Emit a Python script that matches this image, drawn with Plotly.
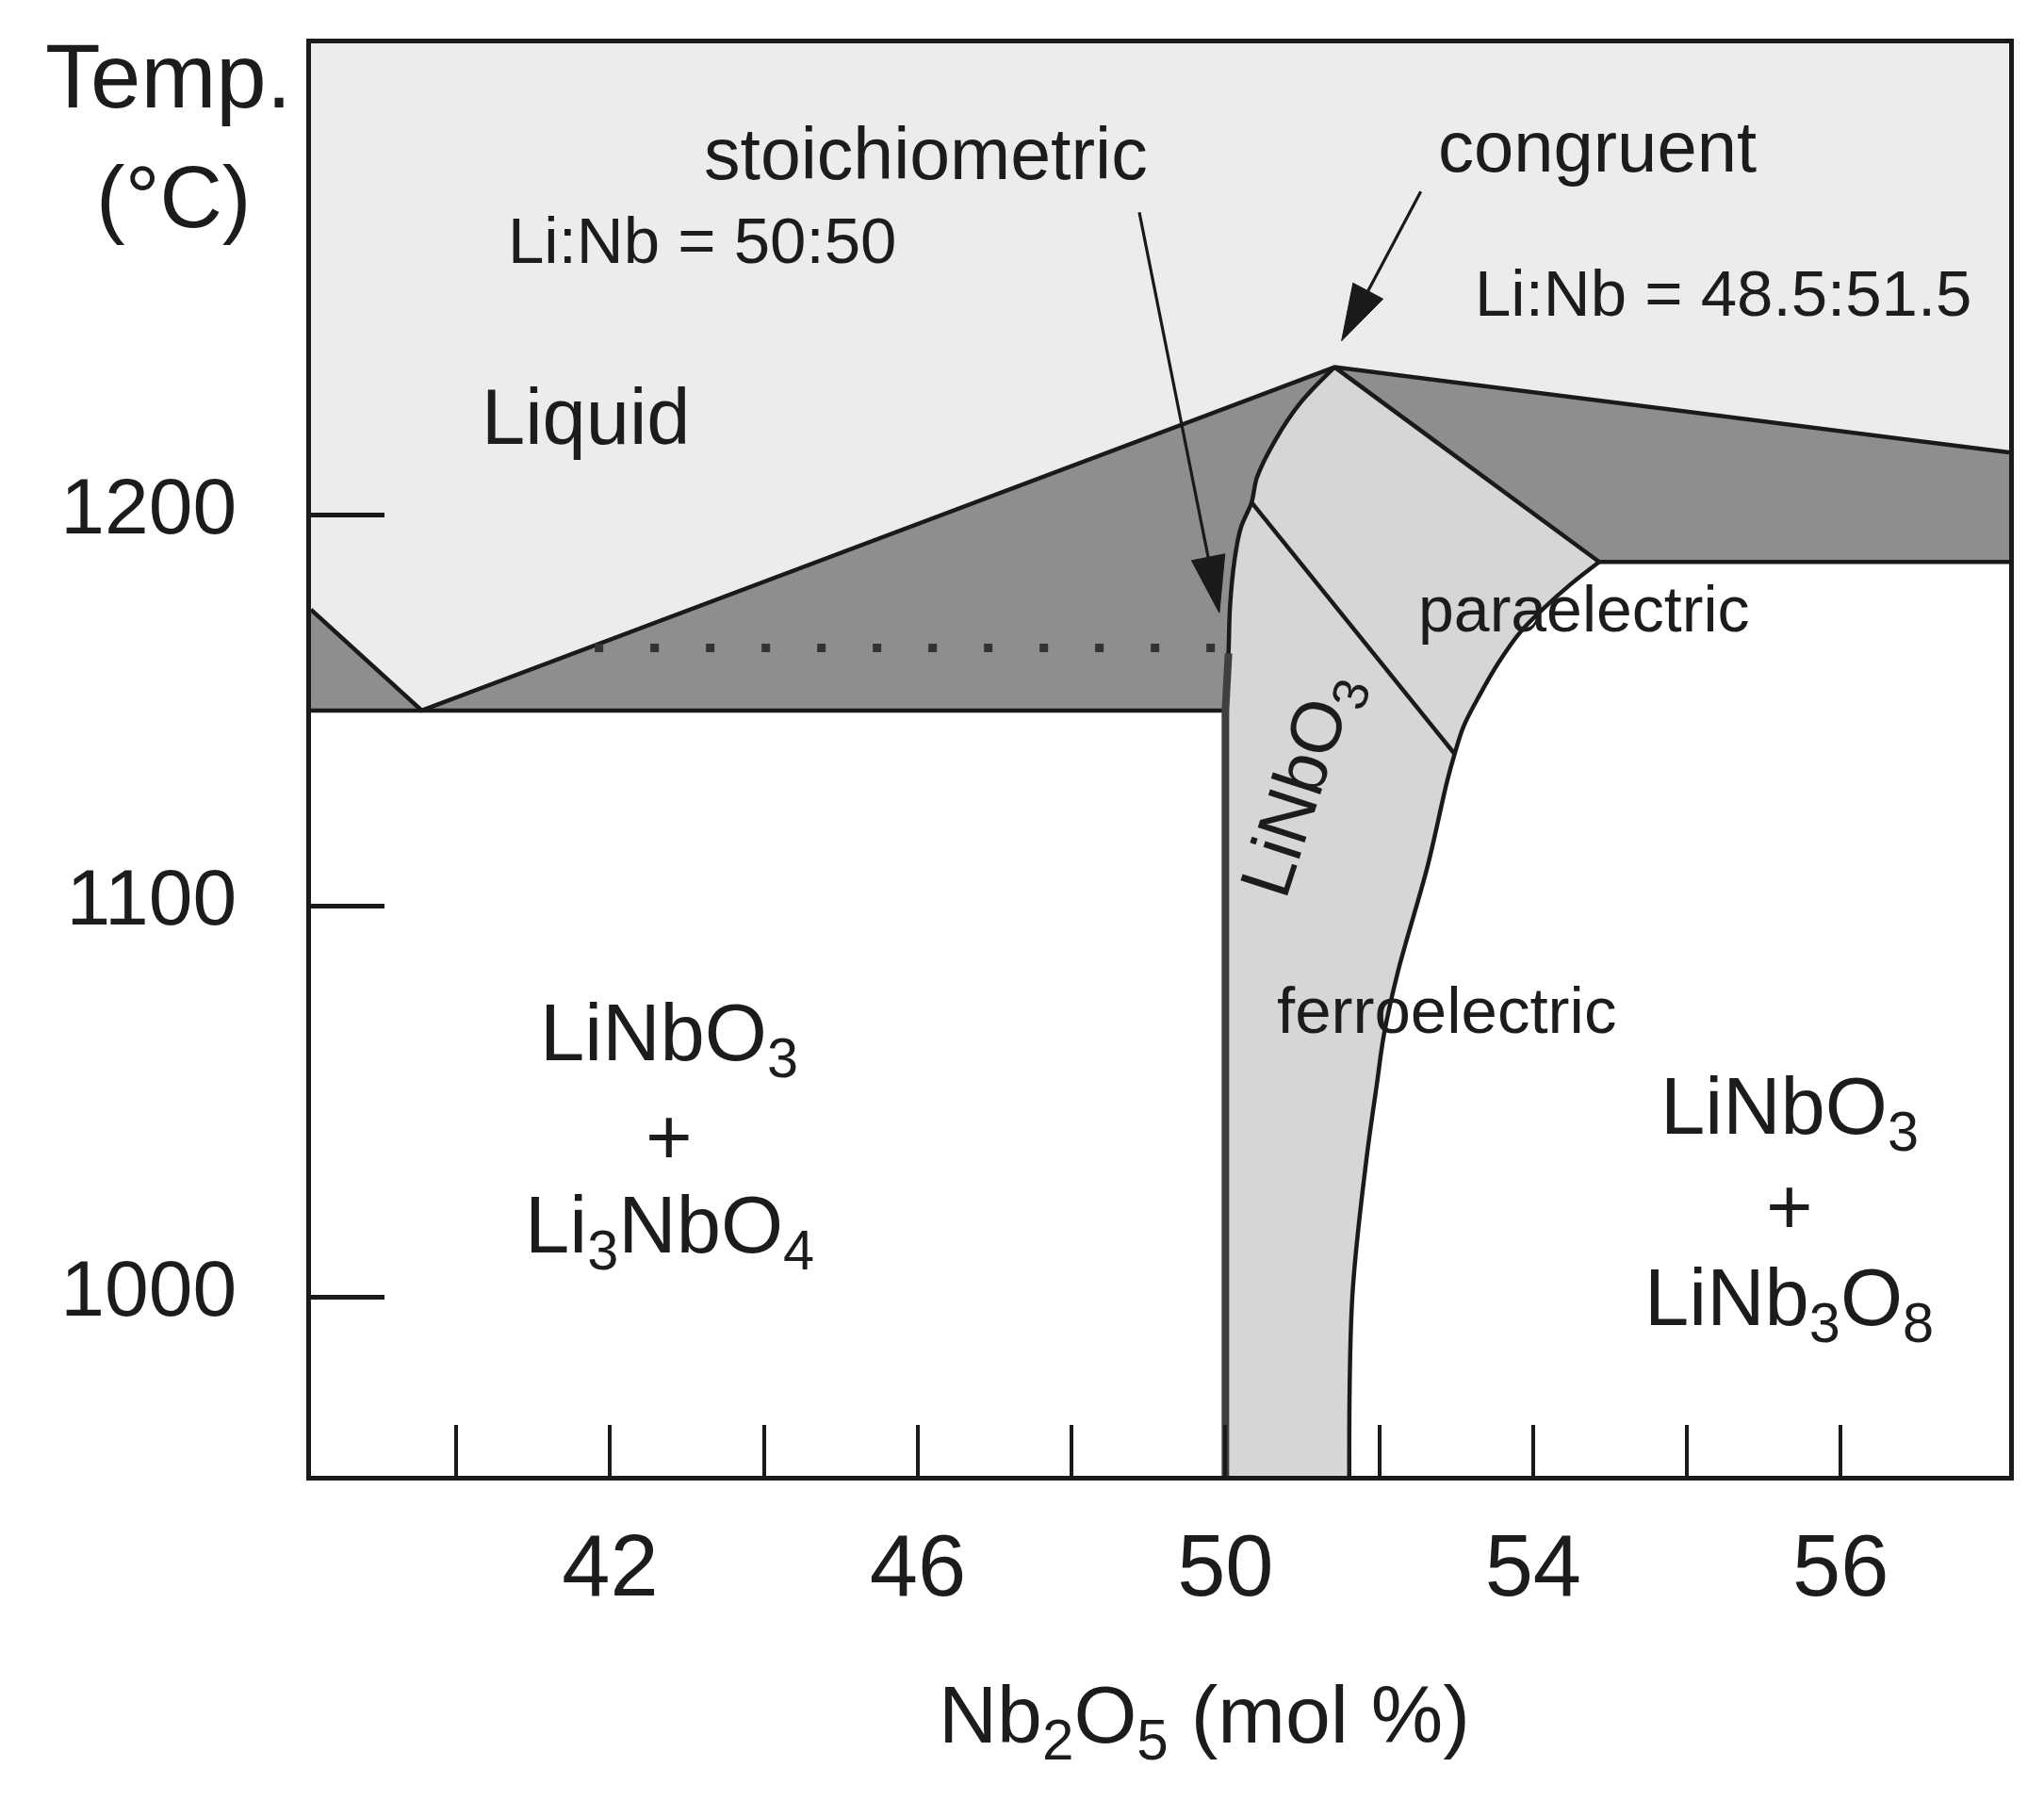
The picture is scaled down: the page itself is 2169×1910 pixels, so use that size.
import math
import plotly.graph_objects as go

# ---------------- data ----------------
X_MIN, X_MAX = 38.11, 60.19
Y_MIN, Y_MAX = 954.3, 1320.6

# liquidus (upper boundary of the dark two-phase regions)
liquidus_x = [38.11, 39.55, 51.42, 60.19]
liquidus_y = [1175.8, 1150.0, 1237.8, 1216.0]

# left boundary of the LiNbO3 solid-solution field (bottom -> congruent point)
solidus_left_x = [50.00, 50.00, 50.04, 50.06, 50.12, 50.20, 50.34, 50.41, 50.65, 50.98, 51.42]
solidus_left_y = [954.3, 1150.0, 1164.6, 1176.7, 1188.7, 1196.7, 1203.2, 1209.6, 1219.2, 1228.8, 1237.8]

# right solidus (straight) from congruent point down to the right eutectic
solidus_right_x = [51.42, 54.86]
solidus_right_y = [1237.8, 1188.0]

# right solvus boundary (top -> bottom)
solvus_right_x = [54.86, 54.49, 54.12, 53.84, 53.55, 53.31, 53.10, 52.98, 52.88, 52.63, 52.24, 52.06, 51.97, 51.83, 51.65, 51.61]
solvus_right_y = [1188.0, 1182.3, 1175.8, 1170.2, 1162.2, 1154.1, 1146.1, 1138.9, 1131.7, 1110.3, 1083.0, 1067.0, 1054.6, 1034.7, 1000.1, 954.3]

# eutectic lines
eutectic_left_x = [38.11, 50.00]
eutectic_left_y = [1150.0, 1150.0]
eutectic_right_x = [54.86, 60.19]
eutectic_right_y = [1188.0, 1188.0]

# Curie (paraelectric / ferroelectric) line
curie_x = [50.34, 52.98]
curie_y = [1203.2, 1138.9]

# dotted line
dotted_x = [41.80, 50.00]
dotted_y = [1166.0, 1166.0]

# arrows: stoichiometric, congruent
arrow_tail_x = [48.88, 52.54]
arrow_tail_y = [1277.4, 1282.7]
arrow_tip_x = [49.92, 51.51]
arrow_tip_y = [1175.0, 1244.5]

# axis ticks
x_tickvals = [42, 46, 50, 54, 58]
x_ticktext = ["42", "46", "50", "54", "56"]
x_minor_tickvals = [40, 44, 48, 52, 56]
y_tickvals = [1000, 1100, 1200]
y_ticktext = ["1000", "1100", "1200"]

# ---------------- styling ----------------
W, H = 2169, 1910
OFF = 8  # page body margin of the rendered html
ML, MR, MT, MB = 330 - OFF, 37 + OFF, 46 - OFF, 344 + OFF
FONT = "Liberation Sans, Arial, Helvetica, sans-serif"
TXT = "#1c1c1c"
LINE = "#1a1a1a"
C_LIQ = "#ececec"
C_DARK = "#8e8e8e"
C_SS = "#d6d6d6"

fig = go.Figure()

def poly(xs, ys, color):
    fig.add_trace(go.Scatter(x=xs, y=ys, mode="lines", fill="toself", fillcolor=color,
                             line=dict(width=0, color=color), hoverinfo="skip", showlegend=False))

def line(xs, ys, width=4.5, color=LINE, dash=None, shape="linear"):
    fig.add_trace(go.Scatter(x=xs, y=ys, mode="lines",
                             line=dict(width=width, color=color, dash=dash, shape=shape),
                             hoverinfo="skip", showlegend=False))

# liquid field
poly(liquidus_x + [X_MAX, X_MIN], liquidus_y + [Y_MAX, Y_MAX], C_LIQ)

# left dark field
lx = liquidus_x[:3] + solidus_left_x[1:-1][::-1] + [X_MIN]
ly = liquidus_y[:3] + solidus_left_y[1:-1][::-1] + [eutectic_left_y[0]]
poly(lx, ly, C_DARK)

# right dark field
rx = [liquidus_x[2], liquidus_x[3], X_MAX, solidus_right_x[1]]
ry = [liquidus_y[2], liquidus_y[3], eutectic_right_y[1], solidus_right_y[1]]
poly(rx, ry, C_DARK)

# LiNbO3 solid solution field
sx = solidus_left_x + solvus_right_x
sy = solidus_left_y + solvus_right_y
poly(sx, sy, C_SS)

# boundary lines
line(liquidus_x, liquidus_y)
line(eutectic_left_x, eutectic_left_y)
line(eutectic_right_x, eutectic_right_y)
line(solidus_left_x[1:], solidus_left_y[1:], width=4.5, shape="spline")
line(solidus_left_x[:3], solidus_left_y[:3], width=8, color="#3f3f3f")
line(solidus_right_x, solidus_right_y)
line(solvus_right_x, solvus_right_y, shape="spline")
line(curie_x, curie_y)
line(dotted_x, dotted_y, width=9, color="#333333", dash="9px,50px")

# arrows (head computed in pixel space from tail/tip)
PW, PH = W - ML - MR, H - MT - MB
sx_px = PW / (X_MAX - X_MIN)
sy_px = PH / (Y_MAX - Y_MIN)
HEAD_L, HEAD_HW = 60.0, 18.0
for tx, ty, hx, hy in zip(arrow_tail_x, arrow_tail_y, arrow_tip_x, arrow_tip_y):
    dx = (hx - tx) * sx_px
    dy = (hy - ty) * sy_px
    n = math.hypot(dx, dy)
    ux, uy = dx / n, dy / n
    bx = hx * sx_px - HEAD_L * ux
    by = hy * sy_px - HEAD_L * uy
    nx, ny = -uy, ux
    head_x = [hx, (bx + HEAD_HW * nx) / sx_px, (bx - HEAD_HW * nx) / sx_px, hx]
    head_y = [hy, (by + HEAD_HW * ny) / sy_px, (by - HEAD_HW * ny) / sy_px, hy]
    line([tx, (bx + 10 * ux) / sx_px], [ty, (by + 10 * uy) / sy_px], width=3.2)
    fig.add_trace(go.Scatter(x=head_x, y=head_y, mode="lines", fill="toself", fillcolor=LINE,
                             line=dict(width=1, color=LINE), hoverinfo="skip", showlegend=False))

# ---------------- text ----------------
def label(x, y, text, size, angle=0, ref="data"):
    kw = dict(x=x, y=y, text=text, showarrow=False, textangle=angle,
              font=dict(family=FONT, size=size, color=TXT),
              xanchor="center", yanchor="middle")
    if ref == "paper":
        kw.update(xref="paper", yref="paper")
    fig.add_annotation(**kw)

label(41.69, 1225.0, "Liquid", 83)
label(46.10, 1292.3, "stoichiometric", 77)
label(43.20, 1270.0, "Li:Nb = 50:50", 69)
label(54.83, 1294.3, "congruent", 76)
label(56.47, 1256.7, "Li:Nb = 48.5:51.5", 69)
label(54.66, 1176.0, "paraelectric", 68)
label(52.88, 1073.3, "ferroelectric", 69)
label(51.00, 1131.0, "LiNbO<sub>3</sub>", 76, angle=-72)

label(42.77, 1066.0, "LiNbO<sub>3</sub>", 85)
label(42.77, 1041.0, "+", 85)
label(42.77, 1017.0, "Li<sub>3</sub>NbO<sub>4</sub>", 85)

label(57.33, 1047.3, "LiNbO<sub>3</sub>", 85)
label(57.33, 1023.2, "+", 85)
label(57.33, 998.3, "LiNb<sub>3</sub>O<sub>8</sub>", 85)

label(-0.0838, 0.9776, "Temp.", 96, ref="paper")
label(-0.0810, 0.8928, "(°C)", 92, ref="paper")
label(0.526, -0.171, "Nb<sub>2</sub>O<sub>5</sub> (mol %)", 86, ref="paper")

fig.update_layout(
    width=W, height=H,
    margin=dict(l=ML, r=MR, t=MT, b=MB, pad=0),
    paper_bgcolor="white", plot_bgcolor="white",
    showlegend=False,
    font=dict(family=FONT, color=TXT),
)
fig.update_xaxes(range=[X_MIN, X_MAX], showgrid=False, zeroline=False,
                 showline=True, linewidth=5, linecolor=LINE, mirror=True,
                 ticks="inside", ticklen=54, tickwidth=3.5, tickcolor=LINE,
                 tickvals=x_tickvals, ticktext=x_ticktext,
                 minor=dict(tickmode="array", tickvals=x_minor_tickvals, ticks="inside",
                            ticklen=54, tickwidth=3.5, tickcolor=LINE, showgrid=False),
                 tickfont=dict(family=FONT, size=92, color=TXT),
                 ticklabelstandoff=12)
fig.update_yaxes(range=[Y_MIN, Y_MAX], showgrid=False, zeroline=False,
                 showline=True, linewidth=5, linecolor=LINE, mirror=True,
                 ticks="inside", ticklen=78, tickwidth=4.5, tickcolor=LINE,
                 tickvals=y_tickvals, ticktext=y_ticktext,
                 tickfont=dict(family=FONT, size=84, color=TXT),
                 ticklabelstandoff=57, ticklabelshift=-10)

fig.write_html("out.html")
